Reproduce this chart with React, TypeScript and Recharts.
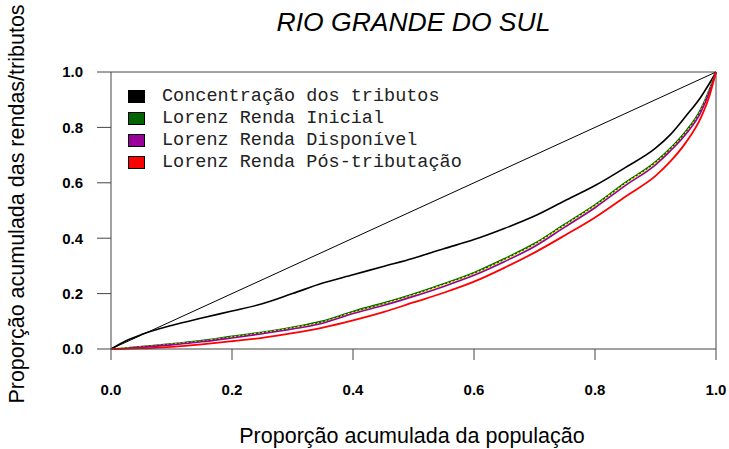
import React from "react";
import { LineChart, Line, XAxis, YAxis, ReferenceLine } from "recharts";

// proporção acumulada da população
const populacao = [0, 0.025, 0.05, 0.1, 0.15, 0.2, 0.25, 0.3, 0.35, 0.4, 0.45, 0.5, 0.55, 0.6, 0.65, 0.7, 0.75, 0.8, 0.85, 0.9, 0.925, 0.95, 0.975, 0.99, 1];

const concentracaoTributos = [0, 0.03, 0.052, 0.085, 0.112, 0.137, 0.163, 0.2, 0.238, 0.268, 0.298, 0.328, 0.362, 0.395, 0.435, 0.48, 0.535, 0.59, 0.655, 0.725, 0.775, 0.84, 0.91, 0.962, 1];
const rendaInicial = [0, 0.003, 0.008, 0.018, 0.03, 0.045, 0.06, 0.078, 0.1, 0.135, 0.165, 0.198, 0.235, 0.275, 0.325, 0.38, 0.45, 0.52, 0.6, 0.675, 0.725, 0.785, 0.865, 0.94, 1];
const rendaIntermediaria = [0, 0.003, 0.007, 0.017, 0.028, 0.043, 0.058, 0.076, 0.097, 0.132, 0.162, 0.195, 0.232, 0.272, 0.322, 0.377, 0.447, 0.517, 0.597, 0.672, 0.722, 0.781, 0.861, 0.937, 1];
const rendaDisponivel = [0, 0.002, 0.006, 0.015, 0.026, 0.04, 0.055, 0.072, 0.093, 0.128, 0.157, 0.19, 0.226, 0.266, 0.315, 0.37, 0.44, 0.51, 0.59, 0.665, 0.716, 0.775, 0.855, 0.933, 1];
const rendaPosTributacao = [0, 0.001, 0.002, 0.008, 0.017, 0.028, 0.04, 0.057, 0.077, 0.103, 0.133, 0.168, 0.203, 0.243, 0.293, 0.348, 0.41, 0.475, 0.55, 0.625, 0.678, 0.745, 0.835, 0.92, 1];

const ticks = [0, 0.2, 0.4, 0.6, 0.8, 1];

const legendItems = [
  { label: "Concentração dos tributos", color: "#000000" },
  { label: "Lorenz Renda Inicial", color: "#006400" },
  { label: "Lorenz Renda Disponível", color: "#990099" },
  { label: "Lorenz Renda Pós-tributação", color: "#ff0000" },
];

const data = populacao.map((p, i) => ({
  p,
  conc: concentracaoTributos[i],
  inicial: rendaInicial[i],
  inter: rendaIntermediaria[i],
  disp: rendaDisponivel[i],
  pos: rendaPosTributacao[i],
}));

const sans = "'Liberation Sans', Arial, sans-serif";
const tickStyle = { fill: "#000", fontSize: 15, fontWeight: 700, fontFamily: sans };

export default function App() {
  return (
    <div style={{ position: "absolute", left: 0, top: 0, width: 729, height: 449, background: "#fff", overflow: "hidden" }}>
      <LineChart width={729} height={449} data={data} margin={{ top: 72, right: 13, bottom: 60, left: 51 }}>
        <XAxis
          dataKey="p"
          type="number"
          domain={[0, 1]}
          ticks={ticks}
          tickFormatter={(v: number) => v.toFixed(1)}
          tick={tickStyle}
          tickSize={11}
          tickMargin={24}
          height={40}
          stroke="#444"
          interval={0}
        />
        <YAxis
          type="number"
          domain={[0, 1]}
          ticks={ticks}
          tickFormatter={(v: number) => v.toFixed(1)}
          tick={tickStyle}
          tickSize={14}
          tickMargin={14}
          width={60}
          stroke="#444"
          interval={0}
        />
        <ReferenceLine y={1} stroke="#444" />
        <ReferenceLine x={1} stroke="#444" />
        <ReferenceLine segment={[{ x: 0, y: 0 }, { x: 1, y: 1 }]} stroke="#000" strokeWidth={1} />
        <Line type="monotone" dataKey="conc" stroke="#000" strokeWidth={1.6} dot={false} isAnimationActive={false} />
        <Line type="monotone" dataKey="inicial" stroke="#006400" strokeWidth={2} dot={false} isAnimationActive={false} />
        <Line type="monotone" dataKey="inter" stroke="#ffff00" strokeWidth={1.5} strokeDasharray="2 2" dot={false} isAnimationActive={false} />
        <Line type="monotone" dataKey="disp" stroke="#990099" strokeWidth={1.6} dot={false} isAnimationActive={false} />
        <Line type="monotone" dataKey="pos" stroke="#ff0000" strokeWidth={1.8} dot={false} isAnimationActive={false} />
      </LineChart>

      <div style={{ position: "absolute", left: 0, width: 729, top: 7, textAlign: "center", paddingLeft: 98, boxSizing: "border-box", fontFamily: sans, fontStyle: "italic", fontSize: 26.5, lineHeight: "30px", color: "#000" }}>
        RIO GRANDE DO SUL
      </div>

      <div style={{ position: "absolute", left: 0, width: 729, top: 423, textAlign: "center", paddingLeft: 95, boxSizing: "border-box", fontFamily: sans, fontSize: 21.5, lineHeight: "26px", color: "#000" }}>
        Proporção acumulada da população
      </div>

      <div style={{ position: "absolute", left: 17, top: 204, width: 0, height: 0 }}>
        <div style={{ position: "absolute", left: -300, top: -13, width: 600, textAlign: "center", transform: "rotate(-90deg)", fontFamily: sans, fontSize: 21.5, lineHeight: "26px", color: "#000", whiteSpace: "nowrap" }}>
          Proporção acumulada das rendas/tributos
        </div>
      </div>

      <div style={{ position: "absolute", left: 128, top: 85 }}>
        {legendItems.map((item) => (
          <div key={item.label} style={{ display: "flex", alignItems: "center", height: 22 }}>
            <div style={{ width: 15, height: 11, background: item.color, border: "1px solid #000" }} />
            <span style={{ marginLeft: 17, fontFamily: "'Liberation Mono', 'Courier New', monospace", fontSize: 18.5, color: "#222", whiteSpace: "pre" }}>
              {item.label}
            </span>
          </div>
        ))}
      </div>
    </div>
  );
}
